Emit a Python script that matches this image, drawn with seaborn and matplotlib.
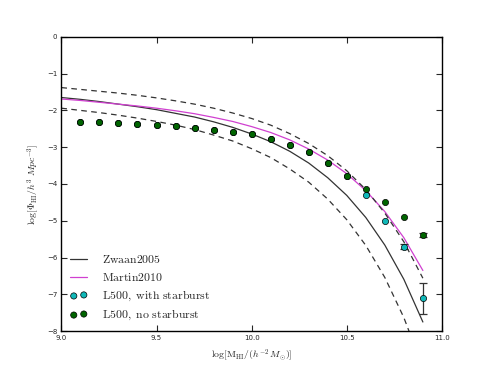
import numpy as np
import pandas as pd
import seaborn as sns
import matplotlib.pyplot as plt

# HI mass function curves (log M_HI in h^-2 Msun)
curve_mass = [9.0, 9.1, 9.2, 9.3, 9.4, 9.5, 9.6, 9.7, 9.8, 9.9,
              10.0, 10.1, 10.2, 10.3, 10.4, 10.5, 10.6, 10.7, 10.8, 10.9]
zwaan = [-1.65, -1.70, -1.76, -1.83, -1.90, -1.98, -2.08, -2.18, -2.31, -2.46,
         -2.64, -2.85, -3.11, -3.43, -3.83, -4.31, -4.91, -5.66, -6.59, -7.75]
zwaan_upper = [-1.38, -1.43, -1.48, -1.53, -1.59, -1.66, -1.74, -1.83, -1.94, -2.07,
               -2.22, -2.40, -2.63, -2.90, -3.23, -3.64, -4.15, -4.79, -5.57, -6.56]
zwaan_lower = [-1.94, -2.00, -2.06, -2.13, -2.21, -2.30, -2.40, -2.52, -2.67, -2.83,
               -3.04, -3.28, -3.59, -3.95, -4.41, -4.97, -5.67, -6.54, -7.63, -8.99]
martin = [-1.69, -1.73, -1.78, -1.83, -1.88, -1.94, -2.01, -2.09, -2.19, -2.30,
          -2.44, -2.60, -2.80, -3.05, -3.35, -3.72, -4.18, -4.75, -5.46, -6.35]

# simulation points (L500 box)
sim_mass = [9.1, 9.2, 9.3, 9.4, 9.5, 9.6, 9.7, 9.8, 9.9, 10.0,
            10.1, 10.2, 10.3, 10.4, 10.5, 10.6, 10.7, 10.8, 10.9]
no_starburst = [-2.31, -2.31, -2.35, -2.37, -2.40, -2.43, -2.47, -2.52, -2.58, -2.65,
                -2.77, -2.93, -3.13, -3.43, -3.78, -4.14, -4.50, -4.89, -5.38]
no_starburst_err = [0, 0, 0, 0, 0, 0, 0, 0, 0, 0,
                    0, 0, 0, 0, 0, 0, 0, 0, 0.06]
with_starburst = [-2.31, -2.31, -2.35, -2.37, -2.40, -2.43, -2.47, -2.52, -2.58, -2.65,
                  -2.77, -2.93, -3.13, -3.43, -3.78, -4.31, -5.00, -5.70, -7.11]
with_starburst_err = [0, 0, 0, 0, 0, 0, 0, 0, 0, 0,
                      0, 0, 0, 0, 0, 0, 0, 0.06, 0.42]


def setup_style():
    sns.set_style("ticks")
    plt.rcParams.update({
        "mathtext.fontset": "cm",
        "xtick.direction": "in",
        "ytick.direction": "in",
        "xtick.top": True,
        "ytick.right": True,
        "xtick.labelsize": 5,
        "ytick.labelsize": 5,
        "xtick.major.size": 4,
        "ytick.major.size": 4,
        "xtick.major.pad": 3,
        "ytick.major.pad": 3,
        "axes.linewidth": 1.0,
        "axes.edgecolor": "black",
    })


def plot_mass_function():
    fig = plt.figure(figsize=(4.91, 3.68), dpi=100)
    ax = fig.add_axes([0.125, 0.1, 0.775, 0.8])

    curves = pd.DataFrame({"mass": curve_mass, "zwaan": zwaan, "upper": zwaan_upper,
                           "lower": zwaan_lower, "martin": martin})
    sim = pd.DataFrame({"mass": sim_mass, "nosb": no_starburst, "nosb_err": no_starburst_err,
                        "sb": with_starburst, "sb_err": with_starburst_err})

    sns.lineplot(data=curves, x="mass", y="zwaan", color="#333333", lw=0.9, ax=ax)
    sns.lineplot(data=curves, x="mass", y="martin", color="#d040d0", lw=0.9, ax=ax)
    sns.lineplot(data=curves, x="mass", y="upper", color="#333333", lw=0.9,
                 linestyle=(0, (4.5, 3.5)), ax=ax)
    sns.lineplot(data=curves, x="mass", y="lower", color="#333333", lw=0.9,
                 linestyle=(0, (4.5, 3.5)), ax=ax)

    err_sb = sim[sim["sb_err"] > 0]
    err_nosb = sim[sim["nosb_err"] > 0]
    ax.errorbar(err_sb["mass"], err_sb["sb"], yerr=err_sb["sb_err"], fmt="none",
                ecolor="#333333", elinewidth=0.9, capsize=3, capthick=0.9)
    ax.errorbar(err_nosb["mass"], err_nosb["nosb"], yerr=err_nosb["nosb_err"], fmt="none",
                ecolor="#333333", elinewidth=0.9, capsize=3, capthick=0.9)

    sns.scatterplot(data=sim, x="mass", y="sb", color="#10b8b8", s=20,
                    edgecolor="black", linewidth=0.5, ax=ax, zorder=3)
    sns.scatterplot(data=sim, x="mass", y="nosb", color="#006400", s=20,
                    edgecolor="black", linewidth=0.5, ax=ax, zorder=4)

    ax.set_xlim(9.0, 11.0)
    ax.set_ylim(-8, 0)
    ax.set_xticks([9.0, 9.5, 10.0, 10.5, 11.0])
    ax.set_yticks(range(-8, 1))
    ax.set_xlabel(r"$\log[\mathrm{M}_{\mathrm{HI}}/(h^{-2}\,M_{\odot})]$", fontsize=7)
    ax.set_ylabel(r"$\log[\Phi_{\mathrm{HI}}/h^{3}\ Mpc^{-3}]$", fontsize=7)

    handles = ax.lines[:2] + ax.collections[-2:]
    labels = [r"$\mathrm{Zwaan2005}$", r"$\mathrm{Martin2010}$",
              r"$\mathrm{L500,\ with\ starburst}$", r"$\mathrm{L500,\ no\ starburst}$"]
    ax.legend(handles, labels, loc="lower left", frameon=False, fontsize=8.5,
              scatterpoints=2, handlelength=1.45, handletextpad=1.2,
              labelspacing=0.4, borderaxespad=0.35)

    fig.savefig("out.png", dpi=100)
    plt.close(fig)


def main():
    setup_style()
    plot_mass_function()


if __name__ == "__main__":
    main()
